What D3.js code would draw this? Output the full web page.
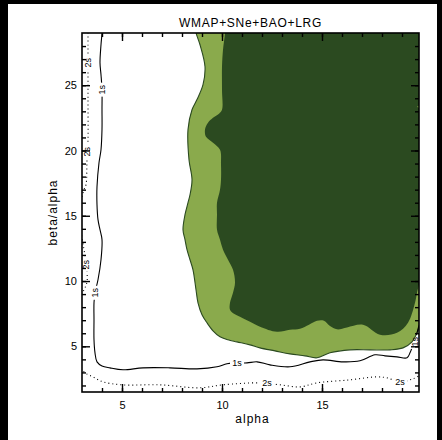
<!DOCTYPE html>
<html>
<head>
<meta charset="utf-8">
<script src="https://cdn.jsdelivr.net/npm/d3@7"></script>
<style>
  html, body { margin: 0; padding: 0; background: #000; }
  svg { display: block; }
  text { font-family: "Liberation Sans", Arial, Helvetica, sans-serif; fill: #000; }
</style>
</head>
<body>
<script>
// Axis ranges and tick values
const alphaDomain = [3, 19.85];
const ratioDomain = [1.5, 29];
const alphaMajorTicks = [5, 10, 15];
const ratioMajorTicks = [5, 10, 15, 20, 25];
const alphaMinorTicks = d3.range(4, 20);
const ratioMinorTicks = d3.range(2, 29);

const titleText = "WMAP+SNe+BAO+LRG";
const xLabel = "alpha";
const yLabel = "beta/alpha";

// Filled 2-sigma region boundary [alpha, beta/alpha]; region lies to the upper right
const region2s = [
  [8.65, 29.6], [8.70, 29.02], [8.90, 28.10], [9.15, 26.42], [9.05, 25.04],
  [8.75, 23.90], [8.50, 23.12], [8.30, 21.60], [8.35, 19.29], [8.50, 17.76],
  [8.40, 16.61], [8.30, 16.00], [8.15, 15.08], [8.05, 13.93], [8.15, 13.17],
  [8.25, 12.40], [8.40, 11.63], [8.55, 10.86], [8.70, 9.33], [8.80, 8.33],
  [9.00, 7.42], [9.25, 6.80], [9.55, 6.19], [9.90, 5.73], [10.30, 5.50],
  [10.75, 5.34], [11.40, 5.11], [11.90, 4.88], [12.65, 4.65], [13.40, 4.42],
  [14.15, 4.27], [14.75, 4.12], [15.40, 4.50], [16.40, 4.73], [17.40, 4.73],
  [18.40, 4.73], [19.05, 4.88], [19.50, 5.34], [19.75, 6.03], [19.85, 6.42],
  [20.30, 6.42], [20.30, 29.6]
];

// Filled 1-sigma region boundary
const region1s = [
  [10.15, 29.6], [10.15, 29.02], [10.05, 27.72], [10.00, 26.42], [10.00, 24.66],
  [10.00, 23.12], [9.85, 22.82], [9.55, 22.51], [9.30, 22.13], [9.15, 21.60],
  [9.20, 21.05], [9.55, 20.60], [9.90, 20.06], [9.95, 18.91], [9.95, 17.76],
  [9.90, 17.00], [9.75, 16.00], [9.75, 15.08], [9.75, 13.93], [9.90, 13.17],
  [10.05, 12.40], [10.30, 11.63], [10.55, 10.86], [10.65, 9.87], [10.55, 9.10],
  [10.40, 8.33], [10.40, 7.80], [10.60, 7.49], [10.90, 7.26], [11.40, 6.88],
  [11.90, 6.50], [12.75, 6.11], [13.40, 6.27], [13.90, 6.35], [14.35, 6.65],
  [14.75, 6.95], [15.10, 6.95], [15.40, 6.55], [15.75, 6.30], [16.25, 6.45],
  [17.05, 6.65], [17.90, 5.88], [18.75, 6.03], [19.30, 6.80], [19.65, 8.33],
  [19.75, 9.10], [19.85, 9.71], [20.30, 9.71], [20.30, 22.8], [19.75, 23.35],
  [20.30, 23.9], [20.30, 29.6]
];

// Second data set: 1s contour (solid) and 2s contour (dotted, two pieces)
const contour1s = [
  [4.00, 29.6], [4.00, 29.02], [3.95, 28.10], [3.90, 26.72], [3.95, 25.80],
  [4.00, 24.66], [4.00, 23.12], [4.00, 21.60], [3.95, 20.06], [3.85, 19.06],
  [3.75, 17.22], [3.75, 15.84], [3.80, 14.70], [3.90, 13.93], [4.00, 13.17],
  [3.95, 11.63], [3.80, 10.10], [3.65, 9.10], [3.60, 8.33], [3.60, 7.03],
  [3.60, 5.50], [3.65, 4.50], [3.75, 3.81], [4.00, 3.50], [4.40, 3.35],
  [5.05, 3.20], [6.05, 3.35], [7.40, 3.35], [8.75, 3.27], [9.75, 3.43],
  [10.25, 3.66], [10.75, 3.73], [11.25, 3.73], [11.75, 3.81], [12.40, 3.58],
  [13.40, 3.43], [14.40, 3.81], [15.05, 3.96], [16.05, 3.81], [16.90, 3.89],
  [17.65, 4.35], [18.15, 4.27], [18.75, 4.19], [19.25, 4.12], [19.40, 4.50],
  [19.55, 5.11], [19.65, 5.50], [19.75, 6.03], [19.85, 6.57], [20.00, 7.03]
];
const contour2sLeft = [
  [3.30, 29.64], [3.30, 29.02], [3.30, 26.95], [3.30, 23.90], [3.30, 20.82],
  [3.25, 19.29], [3.20, 17.38], [3.10, 17.00], [2.90, 15.84], [2.85, 14.55],
  [3.00, 13.32], [3.10, 12.40], [3.20, 11.48], [3.25, 10.71], [3.25, 9.94],
  [3.10, 9.33], [2.80, 8.57]
];
const contour2sBottom = [
  [2.70, 3.81], [3.15, 2.97], [3.55, 2.66], [4.05, 2.28], [5.00, 2.05],
  [6.90, 2.05], [8.90, 1.82], [10.05, 2.05], [11.90, 2.20], [12.90, 2.05],
  [13.90, 1.89], [14.75, 2.20], [16.40, 2.43], [17.75, 2.66], [18.25, 2.58],
  [18.90, 2.28], [19.55, 2.51], [20.00, 2.89]
];

// Contour labels: [alpha, beta/alpha, text, vertical?]
const contourLabels = [
  [4.00, 24.66, "1s", true], [3.65, 9.10, "1s", true],
  [10.75, 3.73, "1s", false], [19.65, 5.34, "1s", true],
  [3.30, 26.72, "2s", true], [3.25, 19.90, "2s", true], [3.20, 11.25, "2s", true],
  [12.25, 2.20, "2s", false], [18.90, 2.28, "2s", false]
];

const W = 442, H = 440;
const plot = { left: 82, right: 419, top: 33, bottom: 392 };
const darkGreen = "#2b4a20", lightGreen = "#8aaa4c";

const svg = d3.select("body").append("svg").attr("width", W).attr("height", H);
svg.append("rect").attr("width", W).attr("height", H).attr("fill", "#000");
svg.append("rect").attr("x", 8).attr("y", 4).attr("width", 429).attr("height", H - 4).attr("fill", "#fff");

const x = d3.scaleLinear().domain(alphaDomain).range([plot.left, plot.right]);
const y = d3.scaleLinear().domain(ratioDomain).range([plot.bottom, plot.top]);

const defs = svg.append("defs");
defs.append("clipPath").attr("id", "plotClip").append("rect")
  .attr("x", plot.left).attr("y", plot.top)
  .attr("width", plot.right - plot.left).attr("height", plot.bottom - plot.top);

// Mask that opens gaps in the contour lines where their labels sit
const mask = defs.append("mask").attr("id", "labelGaps").attr("maskUnits", "userSpaceOnUse")
  .attr("x", 0).attr("y", 0).attr("width", W).attr("height", H);
mask.append("rect").attr("width", W).attr("height", H).attr("fill", "#fff");
contourLabels.forEach(([a, b, t, v]) => {
  const w = v ? 9 : 14, h = v ? 14 : 9;
  mask.append("rect").attr("x", x(a) - w / 2).attr("y", y(b) - h / 2)
    .attr("width", w).attr("height", h).attr("fill", "#000");
});

const lineGen = d3.line().x(d => x(d[0])).y(d => y(d[1])).curve(d3.curveCatmullRom.alpha(0.5));
const straight = d3.line().x(d => x(d[0])).y(d => y(d[1]));

// Region path: smooth along the contour, straight outside the frame
function regionPath(pts) {
  const n = pts.findIndex(p => p[0] >= 20.3);
  const curvePart = pts.slice(0, n);
  const rest = pts.slice(n);
  return lineGen(curvePart) + straight(rest).replace(/^M/, "L") + "Z";
}

const plotG = svg.append("g").attr("clip-path", "url(#plotClip)");
plotG.append("path").attr("d", regionPath(region2s))
  .attr("fill", lightGreen).attr("stroke", darkGreen).attr("stroke-width", 1.1);
plotG.append("path").attr("d", regionPath(region1s))
  .attr("fill", darkGreen).attr("stroke", "none");

const lines = plotG.append("g").attr("mask", "url(#labelGaps)").attr("fill", "none").attr("stroke", "#000");
lines.append("path").attr("d", lineGen(contour1s)).attr("stroke-width", 1.1);
[contour2sLeft, contour2sBottom].forEach(c => {
  lines.append("path").attr("d", lineGen(c)).attr("stroke-width", 1.1)
    .attr("stroke-dasharray", "1,3");
});

plotG.selectAll("text.clab").data(contourLabels).join("text").attr("class", "clab")
  .attr("transform", d => `translate(${x(d[0])},${y(d[1])})` + (d[3] ? " rotate(-90)" : ""))
  .attr("text-anchor", "middle").attr("dy", "0.35em")
  .attr("font-size", 9).text(d => d[2]);

// Axes with inward ticks on all four sides
function styleAxis(g) {
  g.select(".domain").remove();
  g.selectAll(".tick line").attr("stroke", "#000").attr("stroke-width", 1.4);
  g.selectAll(".tick text").attr("font-size", 11).attr("fill", "#000")
    .attr("font-family", "Liberation Sans, Arial, sans-serif");
}
svg.append("g").attr("transform", `translate(0,${plot.bottom})`)
  .call(d3.axisBottom(x).tickValues(alphaMinorTicks).tickSize(-4).tickFormat(""))
  .call(styleAxis);
svg.append("g").attr("transform", `translate(0,${plot.bottom})`)
  .call(d3.axisBottom(x).tickValues(alphaMajorTicks).tickSize(-8).tickPadding(9).tickFormat(d3.format("d")))
  .call(styleAxis);
svg.append("g").attr("transform", `translate(0,${plot.top})`)
  .call(d3.axisTop(x).tickValues(alphaMinorTicks).tickSize(-4).tickFormat(""))
  .call(styleAxis);
svg.append("g").attr("transform", `translate(0,${plot.top})`)
  .call(d3.axisTop(x).tickValues(alphaMajorTicks).tickSize(-8).tickFormat(""))
  .call(styleAxis);
svg.append("g").attr("transform", `translate(${plot.left},0)`)
  .call(d3.axisLeft(y).tickValues(ratioMinorTicks).tickSize(-4).tickFormat(""))
  .call(styleAxis);
svg.append("g").attr("transform", `translate(${plot.left},0)`)
  .call(d3.axisLeft(y).tickValues(ratioMajorTicks).tickSize(-8).tickPadding(5).tickFormat(d3.format("d")))
  .call(styleAxis);
svg.append("g").attr("transform", `translate(${plot.right},0)`)
  .call(d3.axisRight(y).tickValues(ratioMinorTicks).tickSize(-4).tickFormat(""))
  .call(styleAxis);
svg.append("g").attr("transform", `translate(${plot.right},0)`)
  .call(d3.axisRight(y).tickValues(ratioMajorTicks).tickSize(-8).tickFormat(""))
  .call(styleAxis);

svg.append("rect").attr("x", plot.left).attr("y", plot.top)
  .attr("width", plot.right - plot.left).attr("height", plot.bottom - plot.top)
  .attr("fill", "none").attr("stroke", "#000").attr("stroke-width", 1.6);

svg.append("text").attr("x", (plot.left + plot.right) / 2).attr("y", 27)
  .attr("text-anchor", "middle").attr("font-size", 12).attr("letter-spacing", 0.7)
  .text(titleText);
svg.append("text").attr("x", (plot.left + plot.right) / 2 + 2).attr("y", 423)
  .attr("text-anchor", "middle").attr("font-size", 12).attr("letter-spacing", 1)
  .text(xLabel);
svg.append("text").attr("transform", `translate(57,${(plot.top + plot.bottom) / 2}) rotate(-90)`)
  .attr("text-anchor", "middle").attr("font-size", 12).attr("letter-spacing", 1)
  .text(yLabel);
</script>
</body>
</html>
